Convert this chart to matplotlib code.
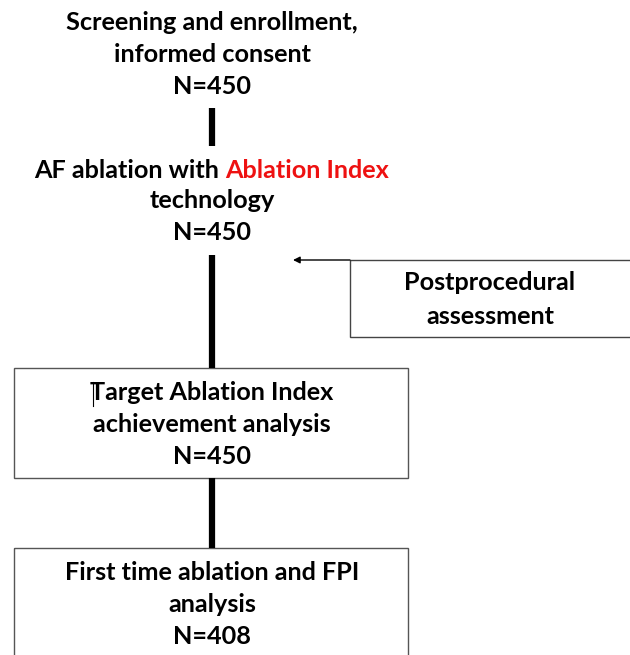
import matplotlib
matplotlib.use("Agg")
import matplotlib.pyplot as plt
from matplotlib.patches import Rectangle

W, H = 630, 655
DPI = 100

step1_lines = ["Screening and enrollment,", "informed consent", "N=450"]
step2_prefix = "AF ablation with "
step2_highlight = "Ablation Index"
step2_lines = ["technology", "N=450"]
side_lines = ["Postprocedural", "assessment"]
step3_lines = ["Target Ablation Index", "achievement analysis", "N=450"]
step4_lines = ["First time ablation and FPI", "analysis", "N=408"]

FONT = "Lato"
FS = 18.2

fig = plt.figure(figsize=(W / DPI, H / DPI), dpi=DPI)
ax = fig.add_axes([0, 0, 1, 1])
ax.set_xlim(0, W)
ax.set_ylim(H, 0)
ax.axis("off")

cx = 212
def lines(txts, x, y0, dy=32):
    for i, t in enumerate(txts):
        ax.text(x, y0 + i * dy, t, ha="center", va="center", fontsize=FS,
                fontweight="bold", family=FONT, color="black")

lines(step1_lines, cx, 22)

# two-colour line
fig.canvas.draw()
r = fig.canvas.get_renderer()
tp = ax.text(0, 0, step2_prefix, fontsize=FS, fontweight="bold", family=FONT)
th = ax.text(0, 0, step2_highlight, fontsize=FS, fontweight="bold", family=FONT)
wp = tp.get_window_extent(r).width
wh = th.get_window_extent(r).width
tp.remove(); th.remove()
x0 = cx - (wp + wh) / 2
ax.text(x0, 170, step2_prefix, ha="left", va="center", fontsize=FS,
        fontweight="bold", family=FONT, color="black")
ax.text(x0 + wp, 170, step2_highlight, ha="left", va="center", fontsize=FS,
        fontweight="bold", family=FONT, color="#ee1111")
lines(step2_lines, cx, 201)

# thick connectors
for y1, y2 in [(108, 146), (255, 368), (478, 548)]:
    ax.plot([cx, cx], [y1, y2], color="black", lw=4.5, solid_capstyle="butt")

# side box + arrow
ax.add_patch(Rectangle((350, 260), 285, 77, fill=False, ec="#444444", lw=1))
ax.annotate("", xy=(293, 260), xytext=(350, 260),
            arrowprops=dict(arrowstyle="-|>", color="black", lw=1,
                            mutation_scale=10, shrinkA=0, shrinkB=0))
lines(side_lines, 490, 283, dy=33)

# boxes
ax.add_patch(Rectangle((14, 368), 394, 110, fill=False, ec="#555555", lw=1))
lines(step3_lines, cx, 392, dy=32.5)
ax.plot([93, 93], [382, 406], color="black", lw=0.8)

ax.add_patch(Rectangle((14, 548), 394, 120, fill=False, ec="#555555", lw=1, clip_on=True))
lines(step4_lines, cx, 572, dy=32)

fig.savefig("out.png", dpi=DPI, facecolor="white")
